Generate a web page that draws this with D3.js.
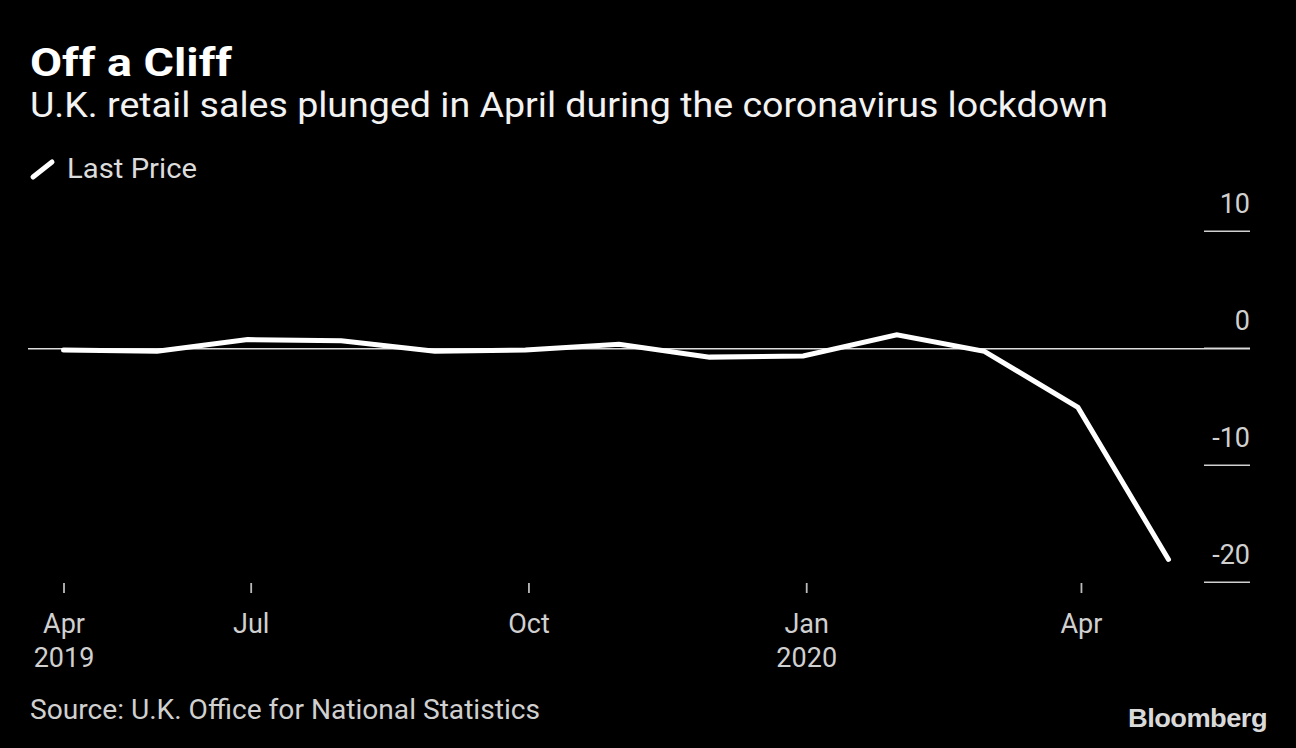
<!DOCTYPE html>
<html>
<head>
<meta charset="utf-8">
<script src="https://cdn.jsdelivr.net/npm/d3@7"></script>
<style>
  html, body { margin: 0; padding: 0; background: #000; }
  svg { display: block; }
</style>
</head>
<body>
<svg id="chart" width="1296" height="748"></svg>
<script>
// ---- data ----
const dates = ["2019-04-30","2019-05-31","2019-06-30","2019-07-31","2019-08-31","2019-09-30",
               "2019-10-31","2019-11-30","2019-12-31","2020-01-31","2020-02-29","2020-03-31","2020-04-30"];
const values = [-0.2, -0.3, 0.7, 0.6, -0.3, -0.2, 0.3, -0.8, -0.7, 1.1, -0.3, -5.1, -18.1];
const xTickDates = ["2019-04-30","2019-07-01","2019-10-01","2020-01-01","2020-04-01"];
const xTickLabels = ["Apr","Jul","Oct","Jan","Apr"];
const xTickYears = ["2019","","","2020",""];
const yTicks = [10, 0, -10, -20];

const title = "Off a Cliff";
const subtitle = "U.K. retail sales plunged in April during the coronavirus lockdown";
const legendLabel = "Last Price";
const source = "Source: U.K. Office for National Statistics";

const parse = d3.utcParse("%Y-%m-%d");
const data = dates.map((d, i) => ({date: parse(d), value: values[i]}));

const svg = d3.select("#chart");
const FONT = "Roboto, 'Open Sans', sans-serif";

svg.append("rect").attr("width", 1296).attr("height", 748).attr("fill", "#000");

// ---- scales ----
const x = d3.scaleUtc()
  .domain([parse("2019-04-30"), parse("2020-04-30")])
  .range([63.5, 1168.5]);
const y = d3.scaleLinear()
  .domain([-20, 10])
  .range([581.7, 230.8]);

// ---- headings ----
svg.append("text").attr("x", 30).attr("y", 76)
  .attr("font-family", FONT).attr("font-weight", 700).attr("font-size", 38)
  .attr("fill", "#fff").attr("textLength", 202).attr("lengthAdjust", "spacingAndGlyphs")
  .text(title);
svg.append("text").attr("x", 30).attr("y", 117)
  .attr("font-family", FONT).attr("font-size", 35)
  .attr("fill", "#f2f2f2").attr("textLength", 1078).attr("lengthAdjust", "spacingAndGlyphs")
  .text(subtitle);

// legend
svg.append("line").attr("x1", 33).attr("y1", 177).attr("x2", 52).attr("y2", 162)
  .attr("stroke", "#fff").attr("stroke-width", 5).attr("stroke-linecap", "round");
svg.append("text").attr("x", 67).attr("y", 178)
  .attr("font-family", FONT).attr("font-size", 27)
  .attr("fill", "#dcdcdc").attr("textLength", 130).attr("lengthAdjust", "spacingAndGlyphs")
  .text(legendLabel);

// ---- y axis (right) ----
const yAxis = d3.axisLeft(y).tickValues(yTicks).tickSize(46).tickFormat(d => String(d));
const gy = svg.append("g").attr("transform", "translate(1250,0)").call(yAxis);
gy.select(".domain").remove();
gy.selectAll(".tick line").attr("stroke", "#d0d0d0").attr("stroke-width", 1.6);
gy.selectAll(".tick text")
  .attr("x", 0).attr("dy", null).attr("y", -18)
  .attr("text-anchor", "end")
  .attr("font-family", FONT).attr("font-size", 27).attr("fill", "#d0d0d0");

// zero line
svg.append("line")
  .attr("x1", 28).attr("x2", 1250)
  .attr("y1", y(0) + 1).attr("y2", y(0) + 1)
  .attr("stroke", "#dcdcdc").attr("stroke-width", 1.7);

// ---- x axis ----
const xAxis = d3.axisBottom(x)
  .tickValues(xTickDates.map(parse))
  .tickSize(10)
  .tickFormat((d, i) => xTickLabels[i]);
const gx = svg.append("g").attr("transform", "translate(0,583)").call(xAxis);
gx.select(".domain").remove();
gx.selectAll(".tick line").attr("stroke", "#bbbbbb").attr("stroke-width", 1.8);
gx.selectAll(".tick text")
  .attr("y", 50).attr("dy", null)
  .attr("font-family", FONT).attr("font-size", 27).attr("fill", "#d0d0d0");
gx.selectAll(".tick").append("text")
  .attr("y", 84).attr("text-anchor", "middle")
  .attr("font-family", FONT).attr("font-size", 27).attr("fill", "#d0d0d0")
  .text((d, i) => xTickYears[i]);

// ---- line ----
const line = d3.line().x(d => x(d.date)).y(d => y(d.value));
svg.append("path").datum(data)
  .attr("d", line)
  .attr("fill", "none")
  .attr("stroke", "#fff")
  .attr("stroke-width", 5)
  .attr("stroke-linecap", "round")
  .attr("stroke-linejoin", "miter");

// ---- footer ----
svg.append("text").attr("x", 30).attr("y", 719)
  .attr("font-family", FONT).attr("font-size", 27)
  .attr("fill", "#d0d0d0").attr("textLength", 510).attr("lengthAdjust", "spacingAndGlyphs")
  .text(source);
svg.append("text").attr("x", 1128).attr("y", 727)
  .attr("font-family", "'Liberation Sans', Arial, sans-serif").attr("font-weight", 700).attr("font-size", 25)
  .attr("fill", "#d9d9d9").attr("textLength", 139).attr("lengthAdjust", "spacingAndGlyphs")
  .attr("letter-spacing", -0.5)
  .text("Bloomberg");
</script>
</body>
</html>
